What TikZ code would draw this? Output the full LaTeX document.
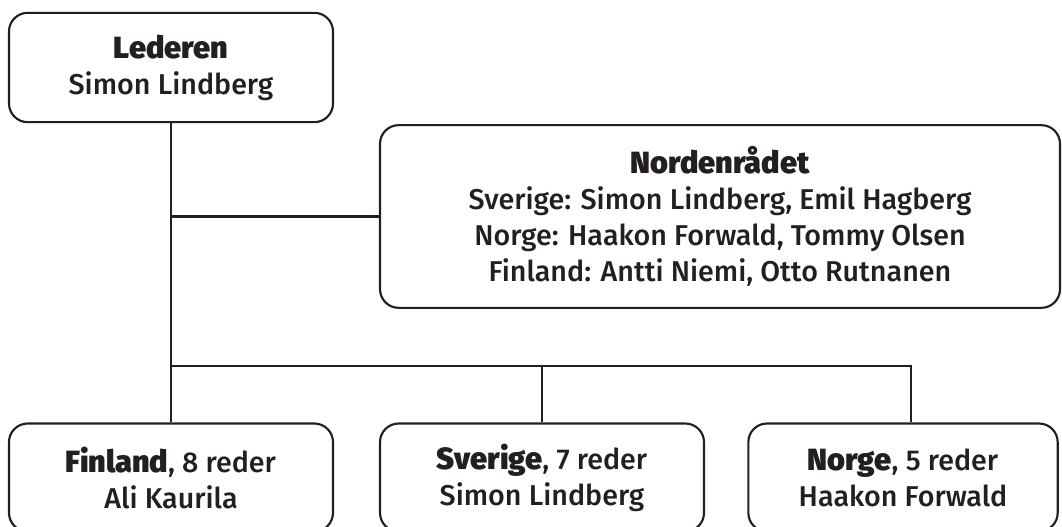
\documentclass[tikz,border=0pt]{standalone}
\usepackage{fontspec}
\setmainfont{Fira Sans}[UprightFont=* Medium, BoldFont=* Black]
\usepackage{tikz}
\usetikzlibrary{positioning}
\definecolor{ink}{RGB}{35,31,32}
\newcommand\hd[1]{{\fontsize{23}{27}\selectfont\bfseries #1}}

\begin{document}
\begin{tikzpicture}[x=0.75pt,y=-0.75pt]

\tikzset{box/.style = {shape=rectangle,draw=ink,line width=1.6pt,rounded corners=14pt,
  fill=white,text=ink,align=center,inner sep=0pt,
  font=\fontsize{21.5}{27}\selectfont}}
\tikzset{link/.style = {draw=ink,line width=1.6pt}}

\useasboundingbox (0,0) rectangle (1062,527);

\node[box,minimum width=243pt,minimum height=82pt] (lederen) at (171,67.5)
  {\hd{Lederen}\\Simon Lindberg};
\node[box,minimum width=510pt,minimum height=137pt] (norden) at (720,216.5)
  {\hd{Nordenrådet}\\Sverige: Simon Lindberg, Emil Hagberg\\
   Norge: Haakon Forwald, Tommy Olsen\\Finland: Antti Niemi, Otto Rutnanen};

\node[box,minimum width=243pt,minimum height=81pt] (finland) at (171,477.5)
  {\hd{Finland}, 8 reder\\Ali Kaurila};
\node[box,minimum width=243pt,minimum height=81pt] (sverige) at (542,477.5)
  {\hd{Sverige}, 7 reder\\Simon Lindberg};
\node[box,minimum width=232pt,minimum height=81pt] (norge) at (903,477.5)
  {\hd{Norge}, 5 reder\\Haakon Forwald};

\coordinate (bus) at (171,366);
\coordinate (norgetop) at ([xshift=6pt]norge.north);

\draw[link] (lederen.south) to (finland.north);
\draw[link] (lederen.south |- norden.west) to (norden.west);
\draw[link] (bus) -| (sverige.north);
\draw[link] (bus) -| (norgetop);

\end{tikzpicture}
\end{document}
